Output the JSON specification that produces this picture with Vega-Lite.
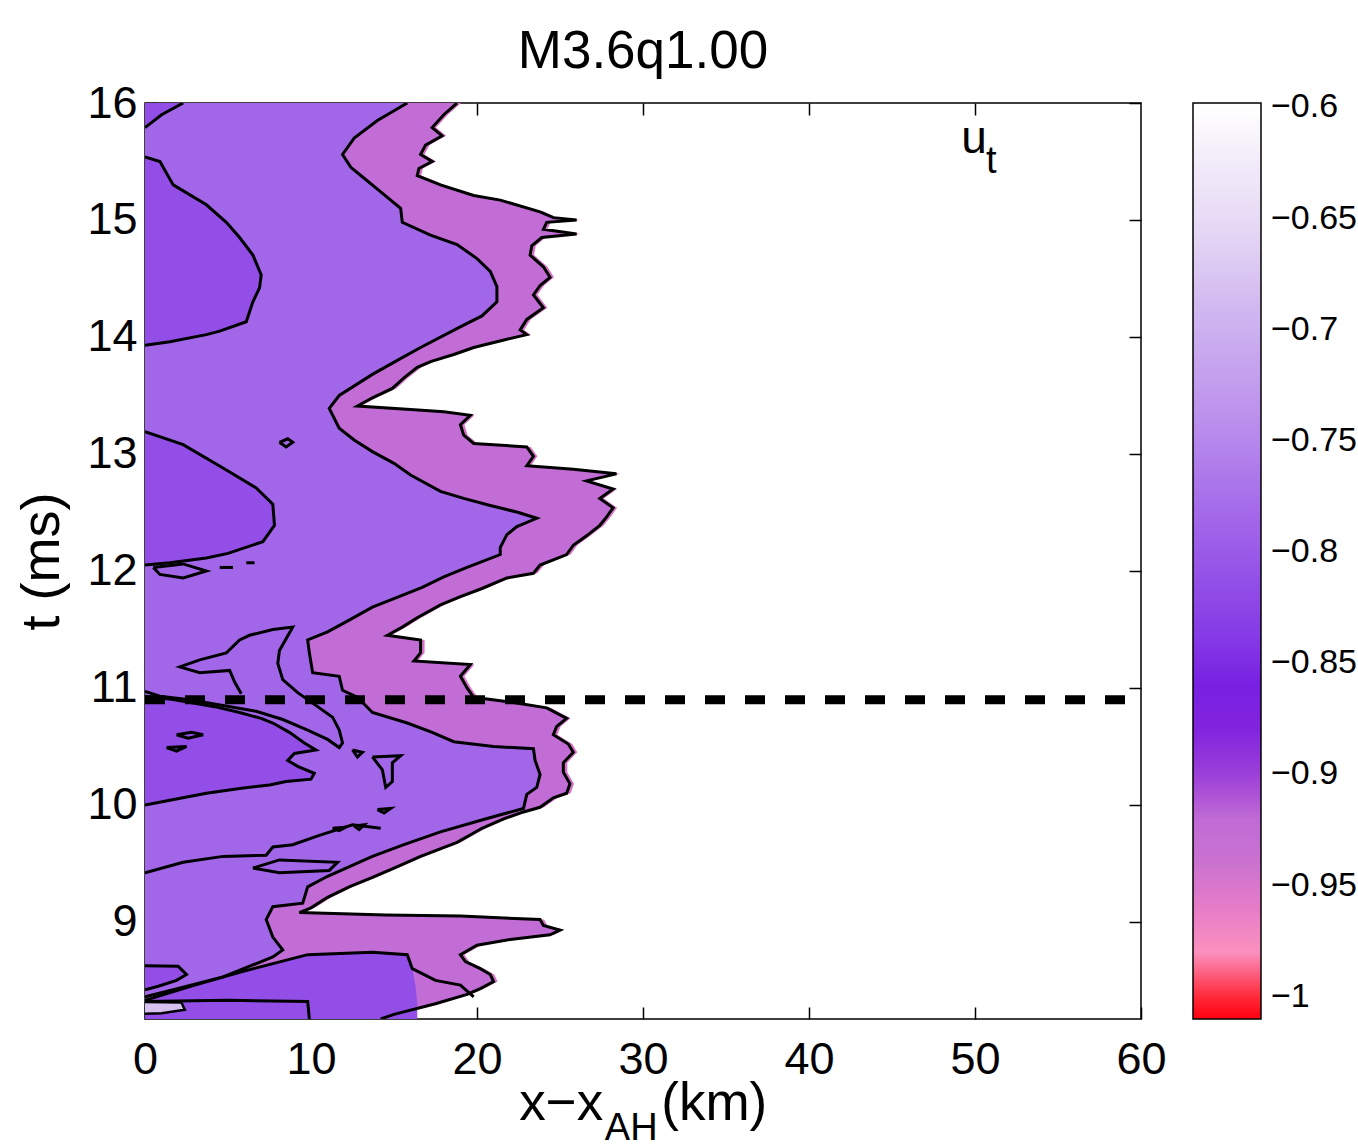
{
  "$schema": "https://vega.github.io/schema/vega-lite/v6.json",
  "width": 996,
  "height": 916,
  "autosize": {"type": "none"},
  "padding": {"left": 145, "top": 103, "right": 217, "bottom": 128},
  "background": "white",
  "title": {"text": "M3.6q1.00", "fontSize": 53, "font": "Liberation Sans", "fontWeight": "normal", "color": "black", "anchor": "middle", "frame": "group", "baseline": "alphabetic", "offset": 33, "dy": 73},
  "config": {
    "font": "Liberation Sans",
    "view": {"stroke": "black", "strokeWidth": 1.5},
    "axis": {"labelFont": "Liberation Sans", "titleFont": "Liberation Sans", "labelColor": "black", "titleColor": "black", "tickColor": "black", "domain": false, "grid": false, "tickSize": -12, "tickWidth": 1.5, "labelFontSize": 45, "titleFontWeight": "normal", "labelFlush": false}
  },
  "resolve": {"axis": {"x": "independent", "y": "independent"}},
  "datasets": {
    "front": [
      {"t": 16.0, "b": 18.8, "u": -0.925}, {"t": 15.9, "b": 18.0, "u": -0.925}, {"t": 15.79, "b": 17.3, "u": -0.925}, {"t": 15.72, "b": 17.9, "u": -0.925},
      {"t": 15.64, "b": 16.9, "u": -0.925}, {"t": 15.56, "b": 16.6, "u": -0.925}, {"t": 15.5, "b": 17.3, "u": -0.925}, {"t": 15.44, "b": 16.5, "u": -0.925},
      {"t": 15.38, "b": 16.4, "u": -0.925}, {"t": 15.3, "b": 17.8, "u": -0.925}, {"t": 15.21, "b": 19.8, "u": -0.925}, {"t": 15.17, "b": 21.4, "u": -0.925},
      {"t": 15.07, "b": 23.8, "u": -0.925}, {"t": 15.02, "b": 24.6, "u": -0.925}, {"t": 15.0, "b": 26.0, "u": -0.925}, {"t": 14.98, "b": 24.2, "u": -0.925},
      {"t": 14.92, "b": 24.0, "u": -0.925}, {"t": 14.88, "b": 26.0, "u": -0.925}, {"t": 14.85, "b": 23.9, "u": -0.925}, {"t": 14.78, "b": 23.3, "u": -0.925},
      {"t": 14.7, "b": 23.2, "u": -0.925}, {"t": 14.6, "b": 24.0, "u": -0.925}, {"t": 14.51, "b": 24.4, "u": -0.925}, {"t": 14.44, "b": 23.8, "u": -0.925},
      {"t": 14.36, "b": 23.4, "u": -0.925}, {"t": 14.25, "b": 24.0, "u": -0.925}, {"t": 14.15, "b": 23.0, "u": -0.925}, {"t": 14.06, "b": 22.6, "u": -0.925},
      {"t": 14.02, "b": 23.0, "u": -0.925}, {"t": 13.97, "b": 21.5, "u": -0.925}, {"t": 13.91, "b": 19.8, "u": -0.925}, {"t": 13.85, "b": 18.6, "u": -0.925},
      {"t": 13.79, "b": 17.2, "u": -0.925}, {"t": 13.74, "b": 16.4, "u": -0.925}, {"t": 13.65, "b": 15.6, "u": -0.925}, {"t": 13.56, "b": 14.9, "u": -0.925},
      {"t": 13.48, "b": 13.7, "u": -0.925}, {"t": 13.41, "b": 12.8, "u": -0.925}, {"t": 13.38, "b": 16.0, "u": -0.925}, {"t": 13.36, "b": 18.0, "u": -0.925},
      {"t": 13.33, "b": 19.6, "u": -0.925}, {"t": 13.25, "b": 19.0, "u": -0.925}, {"t": 13.16, "b": 19.2, "u": -0.925}, {"t": 13.09, "b": 19.8, "u": -0.925},
      {"t": 13.06, "b": 23.0, "u": -0.925}, {"t": 12.98, "b": 23.4, "u": -0.925}, {"t": 12.9, "b": 23.0, "u": -0.925}, {"t": 12.87, "b": 25.8, "u": -0.925},
      {"t": 12.83, "b": 28.4, "u": -0.925}, {"t": 12.77, "b": 26.6, "u": -0.925}, {"t": 12.7, "b": 28.2, "u": -0.925}, {"t": 12.62, "b": 27.4, "u": -0.925},
      {"t": 12.54, "b": 28.2, "u": -0.925}, {"t": 12.46, "b": 27.8, "u": -0.925}, {"t": 12.39, "b": 27.4, "u": -0.925}, {"t": 12.3, "b": 26.6, "u": -0.925},
      {"t": 12.22, "b": 25.8, "u": -0.925}, {"t": 12.14, "b": 25.4, "u": -0.925}, {"t": 12.05, "b": 23.8, "u": -0.925}, {"t": 11.98, "b": 23.4, "u": -0.925},
      {"t": 11.94, "b": 21.8, "u": -0.925}, {"t": 11.85, "b": 20.3, "u": -0.925}, {"t": 11.78, "b": 19.0, "u": -0.925}, {"t": 11.71, "b": 17.8, "u": -0.925},
      {"t": 11.6, "b": 16.4, "u": -0.925}, {"t": 11.52, "b": 15.5, "u": -0.925}, {"t": 11.45, "b": 14.6, "u": -0.925}, {"t": 11.41, "b": 16.6, "u": -0.925},
      {"t": 11.3, "b": 16.6, "u": -0.925}, {"t": 11.23, "b": 16.2, "u": -0.925}, {"t": 11.2, "b": 19.6, "u": -0.925}, {"t": 11.1, "b": 19.0, "u": -0.925},
      {"t": 11.0, "b": 19.4, "u": -0.925}, {"t": 10.92, "b": 19.8, "u": -0.925}, {"t": 10.88, "b": 22.0, "u": -0.925}, {"t": 10.83, "b": 24.2, "u": -0.925},
      {"t": 10.74, "b": 25.4, "u": -0.925}, {"t": 10.67, "b": 24.8, "u": -0.925}, {"t": 10.6, "b": 24.6, "u": -0.925}, {"t": 10.52, "b": 25.5, "u": -0.925},
      {"t": 10.45, "b": 25.8, "u": -0.925}, {"t": 10.36, "b": 25.2, "u": -0.925}, {"t": 10.28, "b": 25.2, "u": -0.925}, {"t": 10.18, "b": 25.6, "u": -0.925},
      {"t": 10.1, "b": 25.4, "u": -0.925}, {"t": 10.06, "b": 24.6, "u": -0.925}, {"t": 9.98, "b": 23.8, "u": -0.925}, {"t": 9.94, "b": 22.8, "u": -0.925},
      {"t": 9.88, "b": 21.6, "u": -0.925}, {"t": 9.8, "b": 20.3, "u": -0.925}, {"t": 9.68, "b": 18.8, "u": -0.925}, {"t": 9.56, "b": 16.6, "u": -0.925},
      {"t": 9.46, "b": 15.0, "u": -0.925}, {"t": 9.38, "b": 13.7, "u": -0.925}, {"t": 9.3, "b": 12.3, "u": -0.925}, {"t": 9.21, "b": 11.0, "u": -0.925},
      {"t": 9.12, "b": 10.0, "u": -0.925}, {"t": 9.08, "b": 9.3, "u": -0.925}, {"t": 9.06, "b": 14.5, "u": -0.925}, {"t": 9.05, "b": 19.0, "u": -0.925},
      {"t": 9.02, "b": 23.8, "u": -0.925}, {"t": 8.97, "b": 24.0, "u": -0.925}, {"t": 8.93, "b": 25.0, "u": -0.925}, {"t": 8.89, "b": 24.4, "u": -0.925},
      {"t": 8.85, "b": 22.0, "u": -0.925}, {"t": 8.8, "b": 20.0, "u": -0.925}, {"t": 8.72, "b": 19.0, "u": -0.925}, {"t": 8.66, "b": 19.3, "u": -0.925},
      {"t": 8.6, "b": 20.2, "u": -0.925}, {"t": 8.55, "b": 20.8, "u": -0.925}, {"t": 8.49, "b": 21.0, "u": -0.925}, {"t": 8.43, "b": 20.2, "u": -0.925},
      {"t": 8.38, "b": 19.4, "u": -0.925}, {"t": 8.3, "b": 17.5, "u": -0.925}, {"t": 8.21, "b": 15.0, "u": -0.925}, {"t": 8.17, "b": 14.2, "u": -0.925}
    ],
    "mid": [
      {"t": 16.0, "b": 15.8, "u": -0.785}, {"t": 15.85, "b": 14.0, "u": -0.785}, {"t": 15.7, "b": 12.6, "u": -0.785}, {"t": 15.56, "b": 11.9, "u": -0.785},
      {"t": 15.45, "b": 12.4, "u": -0.785}, {"t": 15.38, "b": 13.0, "u": -0.785}, {"t": 15.24, "b": 14.2, "u": -0.785}, {"t": 15.1, "b": 15.4, "u": -0.785},
      {"t": 14.98, "b": 15.5, "u": -0.785}, {"t": 14.87, "b": 17.2, "u": -0.785}, {"t": 14.79, "b": 18.8, "u": -0.785}, {"t": 14.67, "b": 20.0, "u": -0.785},
      {"t": 14.56, "b": 20.8, "u": -0.785}, {"t": 14.43, "b": 21.2, "u": -0.785}, {"t": 14.3, "b": 21.2, "u": -0.785}, {"t": 14.18, "b": 20.3, "u": -0.785},
      {"t": 14.08, "b": 18.9, "u": -0.785}, {"t": 13.91, "b": 16.6, "u": -0.785}, {"t": 13.8, "b": 15.2, "u": -0.785}, {"t": 13.68, "b": 13.7, "u": -0.785},
      {"t": 13.5, "b": 11.7, "u": -0.785}, {"t": 13.39, "b": 11.1, "u": -0.785}, {"t": 13.22, "b": 11.7, "u": -0.785}, {"t": 13.12, "b": 12.6, "u": -0.785},
      {"t": 13.02, "b": 13.7, "u": -0.785}, {"t": 12.92, "b": 15.0, "u": -0.785}, {"t": 12.82, "b": 16.0, "u": -0.785}, {"t": 12.68, "b": 17.8, "u": -0.785},
      {"t": 12.62, "b": 19.2, "u": -0.785}, {"t": 12.56, "b": 20.8, "u": -0.785}, {"t": 12.5, "b": 22.5, "u": -0.785}, {"t": 12.45, "b": 23.6, "u": -0.785},
      {"t": 12.38, "b": 22.4, "u": -0.785}, {"t": 12.31, "b": 21.8, "u": -0.785}, {"t": 12.2, "b": 21.4, "u": -0.785}, {"t": 12.14, "b": 21.4, "u": -0.785},
      {"t": 12.03, "b": 19.4, "u": -0.785}, {"t": 11.95, "b": 18.0, "u": -0.785}, {"t": 11.86, "b": 16.7, "u": -0.785}, {"t": 11.78, "b": 15.3, "u": -0.785},
      {"t": 11.69, "b": 13.7, "u": -0.785}, {"t": 11.58, "b": 12.3, "u": -0.785}, {"t": 11.48, "b": 11.0, "u": -0.785}, {"t": 11.41, "b": 9.8, "u": -0.785},
      {"t": 11.3, "b": 9.9, "u": -0.785}, {"t": 11.13, "b": 10.1, "u": -0.785}, {"t": 11.1, "b": 11.7, "u": -0.785}, {"t": 10.98, "b": 11.9, "u": -0.785},
      {"t": 10.92, "b": 12.8, "u": -0.785}, {"t": 10.79, "b": 13.7, "u": -0.785}, {"t": 10.7, "b": 15.8, "u": -0.785}, {"t": 10.62, "b": 17.3, "u": -0.785},
      {"t": 10.54, "b": 18.6, "u": -0.785}, {"t": 10.5, "b": 21.0, "u": -0.785}, {"t": 10.48, "b": 23.4, "u": -0.785}, {"t": 10.38, "b": 23.5, "u": -0.785},
      {"t": 10.26, "b": 23.8, "u": -0.785}, {"t": 10.15, "b": 23.6, "u": -0.785}, {"t": 10.09, "b": 23.0, "u": -0.785}, {"t": 9.97, "b": 22.8, "u": -0.785},
      {"t": 9.88, "b": 20.5, "u": -0.785}, {"t": 9.77, "b": 17.8, "u": -0.785}, {"t": 9.66, "b": 15.6, "u": -0.785}, {"t": 9.56, "b": 13.7, "u": -0.785},
      {"t": 9.39, "b": 11.0, "u": -0.785}, {"t": 9.3, "b": 9.8, "u": -0.785}, {"t": 9.16, "b": 9.5, "u": -0.785}, {"t": 9.13, "b": 7.7, "u": -0.785},
      {"t": 9.02, "b": 7.3, "u": -0.785}, {"t": 8.87, "b": 7.7, "u": -0.785}, {"t": 8.76, "b": 8.3, "u": -0.785}, {"t": 8.7, "b": 7.7, "u": -0.785},
      {"t": 8.53, "b": 4.7, "u": -0.785}, {"t": 8.42, "b": 1.7, "u": -0.785}, {"t": 8.36, "b": 0.0, "u": -0.785}
    ],
    "dark": [
      {"id": "R1", "t": 16.0, "b": 2.3, "u": -0.815}, {"id": "R1", "t": 15.9, "b": 1.0, "u": -0.815}, {"id": "R1", "t": 15.79, "b": 0.0, "u": -0.815},
      {"id": "R2", "t": 15.54, "b": 0.0, "u": -0.815}, {"id": "R2", "t": 15.5, "b": 0.9, "u": -0.815}, {"id": "R2", "t": 15.3, "b": 1.7, "u": -0.815},
      {"id": "R2", "t": 15.13, "b": 3.7, "u": -0.815}, {"id": "R2", "t": 14.98, "b": 4.9, "u": -0.815}, {"id": "R2", "t": 14.85, "b": 5.7, "u": -0.815},
      {"id": "R2", "t": 14.7, "b": 6.5, "u": -0.815}, {"id": "R2", "t": 14.53, "b": 7.0, "u": -0.815}, {"id": "R2", "t": 14.42, "b": 6.9, "u": -0.815},
      {"id": "R2", "t": 14.3, "b": 6.5, "u": -0.815}, {"id": "R2", "t": 14.13, "b": 6.1, "u": -0.815}, {"id": "R2", "t": 14.05, "b": 4.5, "u": -0.815},
      {"id": "R2", "t": 14.02, "b": 3.7, "u": -0.815}, {"id": "R2", "t": 13.96, "b": 1.5, "u": -0.815}, {"id": "R2", "t": 13.93, "b": 0.0, "u": -0.815},
      {"id": "R3", "t": 13.19, "b": 0.0, "u": -0.815}, {"id": "R3", "t": 13.08, "b": 2.3, "u": -0.815}, {"id": "R3", "t": 12.88, "b": 4.7, "u": -0.815},
      {"id": "R3", "t": 12.71, "b": 6.7, "u": -0.815}, {"id": "R3", "t": 12.57, "b": 7.7, "u": -0.815}, {"id": "R3", "t": 12.39, "b": 7.8, "u": -0.815},
      {"id": "R3", "t": 12.25, "b": 7.1, "u": -0.815}, {"id": "R3", "t": 12.15, "b": 5.0, "u": -0.815}, {"id": "R3", "t": 12.11, "b": 3.7, "u": -0.815},
      {"id": "R3", "t": 12.07, "b": 1.5, "u": -0.815}, {"id": "R3", "t": 12.05, "b": 0.0, "u": -0.815},
      {"id": "R4", "t": 10.93, "b": 0.0, "u": -0.815}, {"id": "R4", "t": 10.9, "b": 1.7, "u": -0.815}, {"id": "R4", "t": 10.84, "b": 4.2, "u": -0.815},
      {"id": "R4", "t": 10.79, "b": 5.7, "u": -0.815}, {"id": "R4", "t": 10.74, "b": 7.0, "u": -0.815}, {"id": "R4", "t": 10.7, "b": 7.7, "u": -0.815},
      {"id": "R4", "t": 10.62, "b": 8.7, "u": -0.815}, {"id": "R4", "t": 10.53, "b": 9.6, "u": -0.815}, {"id": "R4", "t": 10.47, "b": 10.3, "u": -0.815},
      {"id": "R4", "t": 10.44, "b": 9.0, "u": -0.815}, {"id": "R4", "t": 10.38, "b": 8.6, "u": -0.815}, {"id": "R4", "t": 10.33, "b": 9.2, "u": -0.815},
      {"id": "R4", "t": 10.27, "b": 10.2, "u": -0.815}, {"id": "R4", "t": 10.22, "b": 10.0, "u": -0.815}, {"id": "R4", "t": 10.2, "b": 8.5, "u": -0.815},
      {"id": "R4", "t": 10.17, "b": 7.5, "u": -0.815}, {"id": "R4", "t": 10.14, "b": 5.7, "u": -0.815}, {"id": "R4", "t": 10.1, "b": 3.7, "u": -0.815},
      {"id": "R4", "t": 10.04, "b": 1.5, "u": -0.815}, {"id": "R4", "t": 10.0, "b": 0.0, "u": -0.815},
      {"id": "E", "t": 8.625, "b": 0.0, "u": -0.815}, {"id": "E", "t": 8.62, "b": 2.0, "u": -0.815}, {"id": "E", "t": 8.55, "b": 2.5, "u": -0.815},
      {"id": "E", "t": 8.5, "b": 1.9, "u": -0.815}, {"id": "E", "t": 8.45, "b": 0.8, "u": -0.815}, {"id": "E", "t": 8.42, "b": 0.0, "u": -0.815}
    ],
    "low": [
      {"x": 0.0, "t": 8.33, "u": -0.815}, {"x": 3.0, "t": 8.46, "u": -0.815}, {"x": 5.7, "t": 8.57, "u": -0.815}, {"x": 9.8, "t": 8.72, "u": -0.815},
      {"x": 13.7, "t": 8.74, "u": -0.815}, {"x": 15.8, "t": 8.72, "u": -0.815}, {"x": 16.1, "t": 8.6, "u": -0.815}, {"x": 16.3, "t": 8.45, "u": -0.815},
      {"x": 16.4, "t": 8.3, "u": -0.815}
    ],
    "light": [
      {"t": 8.315, "b": 0.0, "u": -0.68}, {"t": 8.31, "b": 2.2, "u": -0.68}, {"t": 8.25, "b": 2.4, "u": -0.68}, {"t": 8.22, "b": 1.0, "u": -0.68}, {"t": 8.215, "b": 0.0, "u": -0.68}
    ],
    "lines": [
      {"id": "C6", "i": 1, "x": 0.0, "t": 10.97}, {"id": "C6", "i": 2, "x": 0.9, "t": 10.93}, {"id": "C6", "i": 3, "x": 2.7, "t": 10.9},
      {"id": "C6", "i": 4, "x": 4.7, "t": 10.85}, {"id": "C6", "i": 5, "x": 6.7, "t": 10.8}, {"id": "C6", "i": 6, "x": 8.3, "t": 10.73},
      {"id": "C6", "i": 7, "x": 9.8, "t": 10.64}, {"id": "C6", "i": 8, "x": 11.0, "t": 10.56}, {"id": "C6", "i": 9, "x": 11.7, "t": 10.49},
      {"id": "C6", "i": 10, "x": 11.9, "t": 10.53}, {"id": "C6", "i": 11, "x": 11.7, "t": 10.64}, {"id": "C6", "i": 12, "x": 11.3, "t": 10.75},
      {"id": "C6", "i": 13, "x": 10.1, "t": 10.87}, {"id": "C6", "i": 14, "x": 9.2, "t": 10.96}, {"id": "C6", "i": 15, "x": 8.3, "t": 11.07},
      {"id": "C6", "i": 16, "x": 8.0, "t": 11.21}, {"id": "C6", "i": 17, "x": 8.1, "t": 11.32}, {"id": "C6", "i": 18, "x": 8.9, "t": 11.52},
      {"id": "C6", "i": 19, "x": 7.7, "t": 11.5}, {"id": "C6", "i": 20, "x": 6.3, "t": 11.45}, {"id": "C6", "i": 21, "x": 5.7, "t": 11.41},
      {"id": "C6", "i": 22, "x": 4.9, "t": 11.3}, {"id": "C6", "i": 23, "x": 3.3, "t": 11.24}, {"id": "C6", "i": 24, "x": 2.1, "t": 11.18},
      {"id": "C6", "i": 25, "x": 3.3, "t": 11.13}, {"id": "C6", "i": 26, "x": 5.1, "t": 11.15}, {"id": "C6", "i": 27, "x": 5.4, "t": 11.05},
      {"id": "C6", "i": 28, "x": 5.8, "t": 10.95},
      {"id": "b", "i": 1, "x": 0.0, "t": 9.42}, {"id": "b", "i": 2, "x": 2.3, "t": 9.51}, {"id": "b", "i": 3, "x": 4.7, "t": 9.56},
      {"id": "b", "i": 4, "x": 7.3, "t": 9.57}, {"id": "b", "i": 5, "x": 7.7, "t": 9.64}, {"id": "b", "i": 6, "x": 8.9, "t": 9.66},
      {"id": "b", "i": 7, "x": 10.5, "t": 9.74}, {"id": "b", "i": 8, "x": 12.5, "t": 9.83}, {"id": "b", "i": 9, "x": 14.2, "t": 9.8},
      {"id": "lp", "i": 1, "x": 6.5, "t": 9.46}, {"id": "lp", "i": 2, "x": 8.1, "t": 9.53}, {"id": "lp", "i": 3, "x": 11.6, "t": 9.51},
      {"id": "lp", "i": 4, "x": 11.1, "t": 9.44}, {"id": "lp", "i": 5, "x": 8.1, "t": 9.42}, {"id": "lp", "i": 6, "x": 6.5, "t": 9.46},
      {"id": "f", "i": 1, "x": 0.0, "t": 8.33}, {"id": "f", "i": 2, "x": 3.0, "t": 8.46}, {"id": "f", "i": 3, "x": 5.7, "t": 8.57},
      {"id": "f", "i": 4, "x": 9.8, "t": 8.72}, {"id": "f", "i": 5, "x": 13.7, "t": 8.74}, {"id": "f", "i": 6, "x": 15.8, "t": 8.72},
      {"id": "f", "i": 7, "x": 16.1, "t": 8.6}, {"id": "f", "i": 8, "x": 17.5, "t": 8.5}, {"id": "f", "i": 9, "x": 19.0, "t": 8.46},
      {"id": "f", "i": 10, "x": 19.8, "t": 8.36},
      {"id": "box", "i": 1, "x": 0.0, "t": 8.32}, {"id": "box", "i": 2, "x": 5.0, "t": 8.33}, {"id": "box", "i": 3, "x": 9.8, "t": 8.32}, {"id": "box", "i": 4, "x": 9.9, "t": 8.17},
      {"id": "l1", "i": 1, "x": 8.1, "t": 13.1}, {"id": "l1", "i": 2, "x": 8.6, "t": 13.13}, {"id": "l1", "i": 3, "x": 8.9, "t": 13.1}, {"id": "l1", "i": 4, "x": 8.5, "t": 13.06}, {"id": "l1", "i": 5, "x": 8.1, "t": 13.1},
      {"id": "l2", "i": 1, "x": 0.5, "t": 12.03}, {"id": "l2", "i": 2, "x": 2.3, "t": 12.06}, {"id": "l2", "i": 3, "x": 3.7, "t": 12.0}, {"id": "l2", "i": 4, "x": 2.3, "t": 11.94}, {"id": "l2", "i": 5, "x": 0.9, "t": 11.97}, {"id": "l2", "i": 6, "x": 0.5, "t": 12.03},
      {"id": "l3", "i": 1, "x": 4.5, "t": 12.03}, {"id": "l3", "i": 2, "x": 5.3, "t": 12.03},
      {"id": "l3b", "i": 1, "x": 6.1, "t": 12.07}, {"id": "l3b", "i": 2, "x": 6.6, "t": 12.07},
      {"id": "l4", "i": 1, "x": 12.5, "t": 10.47}, {"id": "l4", "i": 2, "x": 13.1, "t": 10.45}, {"id": "l4", "i": 3, "x": 12.8, "t": 10.41}, {"id": "l4", "i": 4, "x": 12.5, "t": 10.47},
      {"id": "l5", "i": 1, "x": 13.7, "t": 10.41}, {"id": "l5", "i": 2, "x": 15.4, "t": 10.42}, {"id": "l5", "i": 3, "x": 14.9, "t": 10.36}, {"id": "l5", "i": 4, "x": 14.9, "t": 10.2},
      {"id": "l5", "i": 5, "x": 14.5, "t": 10.15}, {"id": "l5", "i": 6, "x": 14.3, "t": 10.3}, {"id": "l5", "i": 7, "x": 13.7, "t": 10.41},
      {"id": "l6", "i": 1, "x": 1.9, "t": 10.6}, {"id": "l6", "i": 2, "x": 2.8, "t": 10.62}, {"id": "l6", "i": 3, "x": 3.5, "t": 10.6}, {"id": "l6", "i": 4, "x": 2.6, "t": 10.57}, {"id": "l6", "i": 5, "x": 1.9, "t": 10.6},
      {"id": "l7", "i": 1, "x": 1.3, "t": 10.49}, {"id": "l7", "i": 2, "x": 2.5, "t": 10.5}, {"id": "l7", "i": 3, "x": 1.9, "t": 10.46}, {"id": "l7", "i": 4, "x": 1.3, "t": 10.49},
      {"id": "l8", "i": 1, "x": 11.3, "t": 9.8}, {"id": "l8", "i": 2, "x": 12.1, "t": 9.81}, {"id": "l8", "i": 3, "x": 11.7, "t": 9.78}, {"id": "l8", "i": 4, "x": 11.3, "t": 9.8},
      {"id": "l9", "i": 1, "x": 12.6, "t": 9.82}, {"id": "l9", "i": 2, "x": 13.2, "t": 9.83}, {"id": "l9", "i": 3, "x": 12.9, "t": 9.79}, {"id": "l9", "i": 4, "x": 12.6, "t": 9.82},
      {"id": "l10", "i": 1, "x": 14.0, "t": 9.96}, {"id": "l10", "i": 2, "x": 14.8, "t": 9.97}, {"id": "l10", "i": 3, "x": 14.4, "t": 9.93}, {"id": "l10", "i": 4, "x": 14.0, "t": 9.96}
    ]
  },
  "layer": [
    {
      "data": {"name": "front"},
      "mark": {"type": "area", "orient": "horizontal", "xOffset": 4, "clip": true},
      "encoding": {
        "y": {"field": "t", "type": "quantitative", "scale": {"domain": [8.17, 16], "nice": false, "zero": false},
          "axis": {"orient": "left", "values": [9, 10, 11, 12, 13, 14, 15, 16], "title": "t (ms)", "titleFontSize": 54, "labelPadding": 20, "titleX": -103, "titleY": 458, "titleAngle": -90, "titleAlign": "center", "titleBaseline": "middle"}},
        "x": {"field": "b", "type": "quantitative", "scale": {"domain": [0, 60], "nice": false, "zero": false},
          "axis": {"orient": "bottom", "values": [0, 10, 20, 30, 40, 50, 60], "title": null, "labelPadding": 30}},
        "x2": {"datum": 0},
        "color": {"datum": -0.95, "type": "quantitative"}
      }
    },
    {
      "data": {"name": "front"},
      "mark": {"type": "area", "orient": "horizontal", "clip": true},
      "encoding": {
        "y": {"field": "t", "type": "quantitative", "axis": {"orient": "right", "values": [9, 10, 11, 12, 13, 14, 15, 16], "labels": false, "title": null}},
        "x": {"field": "b", "type": "quantitative", "axis": {"orient": "top", "values": [10, 20, 30, 40, 50], "labels": false, "title": null}},
        "x2": {"datum": 0},
        "color": {"field": "u", "type": "quantitative"}
      }
    },
    {
      "data": {"name": "mid"},
      "mark": {"type": "area", "orient": "horizontal", "clip": true},
      "encoding": {
        "y": {"field": "t", "type": "quantitative", "axis": null},
        "x": {"field": "b", "type": "quantitative", "axis": null},
        "x2": {"datum": 0},
        "color": {"field": "u", "type": "quantitative",
          "scale": {
            "domain": [-1.01, -1.0, -0.99, -0.985, -0.975, -0.96, -0.95, -0.94, -0.92, -0.9, -0.88, -0.87, -0.86, -0.85, -0.83, -0.8, -0.77, -0.75, -0.72, -0.7, -0.67, -0.65, -0.62, -0.6, -0.598],
            "range": ["#ff0010", "#ff2a3a", "#ff5a70", "#ff90b8", "#f690c6", "#e67cc8", "#d872c8", "#cb72d0", "#bf6ad6", "#9c40d8", "#8224de", "#7418e0", "#7820e2", "#7e2ee4", "#8a42e6", "#9a5ae8", "#aa74ea", "#b688ec", "#c4a0ee", "#ccb0f0", "#dccaf2", "#e8dcf6", "#f4eefa", "#ffffff", "#ffffff"],
            "interpolate": "rgb"
          },
          "legend": {"orient": "right", "offset": 51, "direction": "vertical", "gradientLength": 916, "gradientThickness": 68, "gradientStrokeColor": "black", "gradientStrokeWidth": 1.5, "values": [-1, -0.95, -0.9, -0.85, -0.8, -0.75, -0.7, -0.65, -0.6], "format": "~g", "labelFontSize": 34, "labelFont": "Liberation Sans", "labelColor": "black", "labelOffset": 10, "labelBaseline": "middle", "title": null, "padding": 0, "tickCount": 80}
        }
      }
    },
    {
      "data": {"name": "low"},
      "mark": {"type": "area", "orient": "vertical", "clip": true},
      "encoding": {
        "x": {"field": "x", "type": "quantitative", "axis": null},
        "y": {"field": "t", "type": "quantitative", "axis": null},
        "y2": {"datum": 8.17},
        "color": {"field": "u", "type": "quantitative"}
      }
    },
    {
      "data": {"name": "dark"},
      "mark": {"type": "area", "orient": "horizontal", "clip": true},
      "encoding": {
        "y": {"field": "t", "type": "quantitative", "axis": null},
        "x": {"field": "b", "type": "quantitative", "axis": null},
        "x2": {"datum": 0},
        "detail": {"field": "id"},
        "color": {"field": "u", "type": "quantitative"}
      }
    },
    {
      "data": {"name": "light"},
      "mark": {"type": "area", "orient": "horizontal", "clip": true},
      "encoding": {
        "y": {"field": "t", "type": "quantitative", "axis": null},
        "x": {"field": "b", "type": "quantitative", "axis": null},
        "x2": {"datum": 0},
        "color": {"field": "u", "type": "quantitative"}
      }
    },
    {
      "data": {"name": "front"},
      "mark": {"type": "line", "color": "black", "strokeWidth": 3, "clip": true},
      "encoding": {
        "x": {"field": "b", "type": "quantitative", "axis": null},
        "y": {"field": "t", "type": "quantitative", "axis": null},
        "order": {"field": "t", "type": "quantitative"}
      }
    },
    {
      "data": {"name": "mid"},
      "mark": {"type": "line", "color": "black", "strokeWidth": 3, "clip": true},
      "encoding": {
        "x": {"field": "b", "type": "quantitative", "axis": null},
        "y": {"field": "t", "type": "quantitative", "axis": null},
        "order": {"field": "t", "type": "quantitative"}
      }
    },
    {
      "data": {"name": "dark"},
      "mark": {"type": "line", "color": "black", "strokeWidth": 3, "clip": true},
      "encoding": {
        "x": {"field": "b", "type": "quantitative", "axis": null},
        "y": {"field": "t", "type": "quantitative", "axis": null},
        "detail": {"field": "id"},
        "order": {"field": "t", "type": "quantitative"}
      }
    },
    {
      "data": {"name": "light"},
      "mark": {"type": "line", "color": "black", "strokeWidth": 2.5, "clip": true},
      "encoding": {
        "x": {"field": "b", "type": "quantitative", "axis": null},
        "y": {"field": "t", "type": "quantitative", "axis": null},
        "order": {"field": "t", "type": "quantitative"}
      }
    },
    {
      "data": {"name": "lines"},
      "mark": {"type": "line", "color": "black", "strokeWidth": 3, "clip": true},
      "encoding": {
        "x": {"field": "x", "type": "quantitative", "axis": null},
        "y": {"field": "t", "type": "quantitative", "axis": null},
        "detail": {"field": "id"},
        "order": {"field": "i", "type": "quantitative"}
      }
    },
    {
      "data": {"values": [{}]},
      "mark": {"type": "rule", "color": "black", "strokeWidth": 9, "strokeDash": [20, 20], "strokeDashOffset": 24},
      "encoding": {"y": {"datum": 10.9, "type": "quantitative", "axis": null}}
    },
    {
      "data": {"values": [{}]},
      "mark": {"type": "text", "fontSize": 46, "font": "Liberation Sans", "color": "black", "align": "center", "baseline": "alphabetic", "text": "u"},
      "encoding": {"x": {"datum": 49.94, "type": "quantitative", "axis": null}, "y": {"datum": 15.573, "type": "quantitative", "axis": null}}
    },
    {
      "data": {"values": [{}]},
      "mark": {"type": "text", "fontSize": 38, "font": "Liberation Sans", "color": "black", "align": "left", "baseline": "alphabetic", "text": "t"},
      "encoding": {"x": {"datum": 50.66, "type": "quantitative", "axis": null}, "y": {"datum": 15.4, "type": "quantitative", "axis": null}}
    },
    {
      "data": {"values": [{}]},
      "mark": {"type": "text", "fontSize": 53, "font": "Liberation Sans", "color": "black", "align": "right", "baseline": "alphabetic", "clip": false, "text": "x−x"},
      "encoding": {"x": {"datum": 27.6, "type": "quantitative", "axis": null}, "y": {"datum": 7.308, "type": "quantitative", "axis": null}}
    },
    {
      "data": {"values": [{}]},
      "mark": {"type": "text", "fontSize": 38, "font": "Liberation Sans", "color": "black", "align": "left", "baseline": "alphabetic", "clip": false, "text": "AH"},
      "encoding": {"x": {"datum": 27.7, "type": "quantitative", "axis": null}, "y": {"datum": 7.137, "type": "quantitative", "axis": null}}
    },
    {
      "data": {"values": [{}]},
      "mark": {"type": "text", "fontSize": 53, "font": "Liberation Sans", "color": "black", "align": "left", "baseline": "alphabetic", "clip": false, "text": "(km)"},
      "encoding": {"x": {"datum": 31.1, "type": "quantitative", "axis": null}, "y": {"datum": 7.308, "type": "quantitative", "axis": null}}
    }
  ]
}
